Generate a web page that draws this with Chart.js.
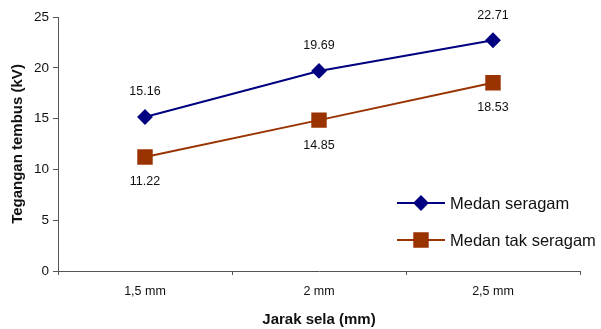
<!DOCTYPE html>
<html>
<head>
<meta charset="utf-8">
<script src="https://cdn.jsdelivr.net/npm/chart.js@4"></script>
<style>
  html, body { margin: 0; padding: 0; background: #fff; }
  #wrap { width: 601px; height: 329px; }
</style>
</head>
<body>
<div id="wrap"><canvas id="c" width="601" height="329"></canvas></div>
<script>
// Gap distance categories and breakdown voltages (kV)
const categories = ['1,5 mm', '2 mm', '2,5 mm'];
const seragam = [15.16, 19.69, 22.71];
const takSeragam = [11.22, 14.85, 18.53];
const seriesNames = ['Medan seragam', 'Medan tak seragam'];
const yTicks = [0, 5, 10, 15, 20, 25];

const FONT = '"Liberation Sans", Arial, sans-serif';
const NAVY = '#000080';
const RUST = '#993300';

// Value labels: above the points for the first series, below for the second
const valueLabels = {
  id: 'valueLabels',
  afterDatasetsDraw(chart) {
    const ctx = chart.ctx;
    ctx.save();
    ctx.font = '12.5px ' + FONT;
    ctx.fillStyle = '#111';
    ctx.textAlign = 'center';
    ctx.textBaseline = 'middle';
    chart.data.datasets.forEach((ds, i) => {
      const meta = chart.getDatasetMeta(i);
      meta.data.forEach((pt, j) => {
        const dy = i === 0 ? -25 : 25;
        ctx.fillText(ds.data[j].toFixed(2), pt.x, pt.y + dy);
      });
    });
    ctx.restore();
  }
};

// Legend drawn at the lower right, overlapping the plot
const sideLegend = {
  id: 'sideLegend',
  afterDraw(chart) {
    const ctx = chart.ctx;
    ctx.save();
    ctx.font = '16.5px ' + FONT;
    ctx.textBaseline = 'middle';
    chart.data.datasets.forEach((ds, i) => {
      const y = 203 + i * 37;
      const x0 = 397, x1 = 445;
      ctx.strokeStyle = ds.borderColor;
      ctx.lineWidth = 2;
      ctx.beginPath();
      ctx.moveTo(x0, y);
      ctx.lineTo(x1, y);
      ctx.stroke();
      Chart.helpers.drawPoint(ctx, {
        pointStyle: ds.pointStyle,
        radius: ds.pointRadius,
        borderWidth: 1
      }, (x0 + x1) / 2, y);
      ctx.fillStyle = ds.pointBackgroundColor;
      ctx.fill();
      ctx.fillStyle = '#111';
      ctx.fillText(ds.label, 450, y + 1);
    });
    ctx.restore();
  }
};

new Chart(document.getElementById('c'), {
  type: 'line',
  data: {
    labels: categories,
    datasets: [
      {
        label: seriesNames[0],
        data: seragam,
        borderColor: NAVY,
        backgroundColor: NAVY,
        pointBackgroundColor: NAVY,
        pointBorderColor: NAVY,
        pointStyle: 'rectRot',
        pointRadius: 6.5,
        borderWidth: 2,
        tension: 0
      },
      {
        label: seriesNames[1],
        data: takSeragam,
        borderColor: RUST,
        backgroundColor: RUST,
        pointBackgroundColor: RUST,
        pointBorderColor: RUST,
        pointStyle: 'rect',
        pointRadius: 9.5,
        borderWidth: 2,
        tension: 0
      }
    ]
  },
  options: {
    responsive: false,
    animation: false,
    devicePixelRatio: 1,
    layout: { padding: { top: 17, right: 21, bottom: 0, left: 0 } },
    plugins: {
      legend: { display: false },
      tooltip: { enabled: false }
    },
    scales: {
      x: {
        type: 'category',
        offset: true,
        border: { display: true, color: '#555', width: 1 },
        grid: { display: true, offset: true, drawOnChartArea: false, drawTicks: true, tickLength: 4, color: '#555' },
        ticks: { color: '#111', font: { family: FONT, size: 12.5 }, padding: 9, maxRotation: 0 },
        title: { display: true, text: 'Jarak sela (mm)', color: '#111', font: { family: FONT, size: 15, weight: 'bold' }, padding: { top: 0, bottom: 0 } },
        afterFit(s) { s.height = 58; }
      },
      y: {
        min: 0,
        max: 25,
        border: { display: true, color: '#555', width: 1 },
        grid: { display: true, drawOnChartArea: false, drawTicks: true, tickLength: 5, color: '#555' },
        afterBuildTicks(s) { s.ticks = yTicks.map(v => ({ value: v })); },
        ticks: { color: '#111', font: { family: FONT, size: 13.5 }, padding: 4 },
        title: { display: true, text: 'Tegangan tembus (kV)', color: '#111', font: { family: FONT, size: 15, weight: 'bold' }, padding: { top: 9, bottom: 0 } },
        afterFit(s) { s.width = 58; }
      }
    }
  },
  plugins: [valueLabels, sideLegend]
});
</script>
</body>
</html>
